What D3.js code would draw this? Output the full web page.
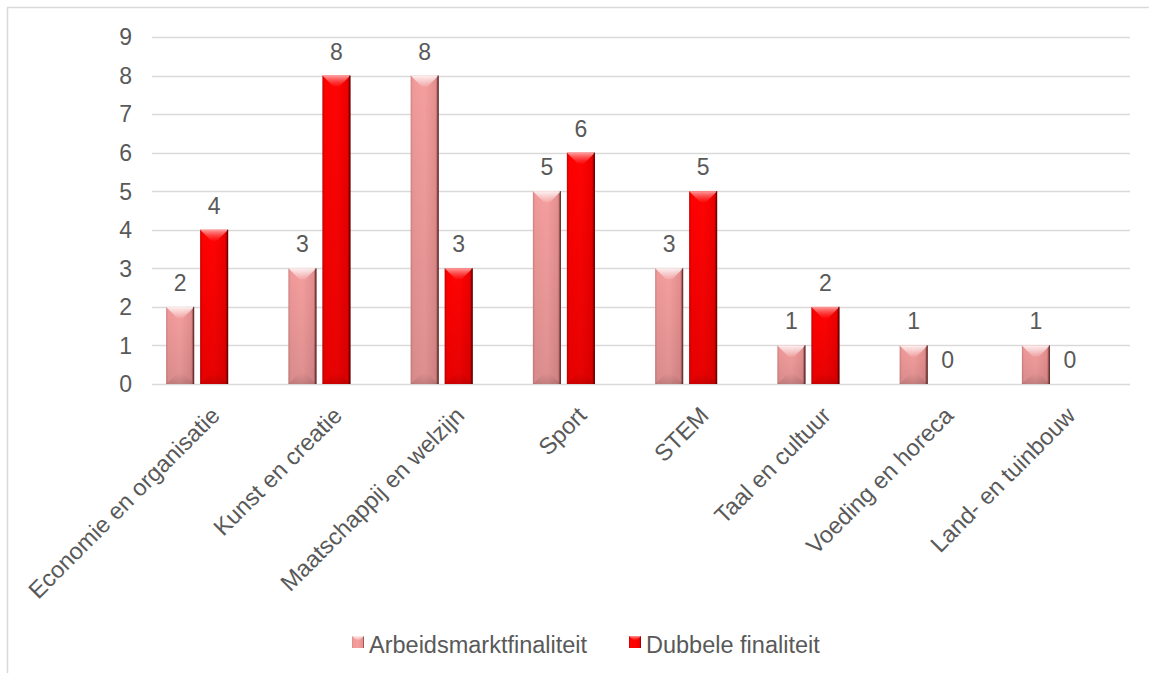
<!DOCTYPE html>
<html>
<head>
<meta charset="utf-8">
<script src="https://cdn.jsdelivr.net/npm/d3@7"></script>
<style>
html,body{margin:0;padding:0;background:#fff;}
svg{display:block;}
text{font-family:"Liberation Sans",Arial,sans-serif;fill:#595959;}
</style>
</head>
<body>
<svg id="chart" width="1149" height="673"></svg>
<script>
const categories = ["Economie en organisatie","Kunst en creatie","Maatschappij en welzijn","Sport","STEM","Taal en cultuur","Voeding en horeca","Land- en tuinbouw"];
const seriesNames = ["Arbeidsmarktfinaliteit","Dubbele finaliteit"];
const arbeidsmarkt = [2,3,8,5,3,1,1,1];
const dubbele = [4,8,3,6,5,2,0,0];
const yTicks = [0,1,2,3,4,5,6,7,8,9];

const svg = d3.select("#chart");
const W = 1149, H = 673;

// frame
svg.append("rect").attr("x",7.5).attr("y",7.5).attr("width",W+10).attr("height",H+10)
  .attr("fill","#fff").attr("stroke","#d9d9d9").attr("stroke-width",1.5);

const defs = svg.append("defs");
function hGrad(id, stops){
  const g = defs.append("linearGradient").attr("id",id).attr("x1","0").attr("x2","1").attr("y1","0").attr("y2","0");
  stops.forEach(s=>g.append("stop").attr("offset",s[0]).attr("stop-color",s[1]));
}
function vGrad(id, stops){
  const g = defs.append("linearGradient").attr("id",id).attr("x1","0").attr("x2","0").attr("y1","0").attr("y2","1");
  stops.forEach(s=>g.append("stop").attr("offset",s[0]).attr("stop-color",s[1]).attr("stop-opacity",s[2]));
}
hGrad("g0",[[0,"#d08282"],[0.08,"#f09999"],[0.5,"#f59f9f"],[0.9,"#e58f8f"],[1,"#6e2c2c"]]);
hGrad("g1",[[0,"#c40000"],[0.08,"#ff0000"],[0.5,"#ff0303"],[0.9,"#ee0000"],[1,"#6a0000"]]);
vGrad("top0",[[0,"#ffffff",0.85],[1,"#ffffff",0.1]]);
vGrad("top1",[[0,"#ffb0b0",0.9],[1,"#ff6060",0.1]]);
vGrad("shade",[[0,"#000000",0.0],[1,"#000000",0.1]]);
vGrad("bot",[[0,"#000000",0.0],[1,"#000000",0.12]]);

const y = d3.scaleLinear().domain([0,9]).range([384,37]);
const x0 = d3.scaleBand().domain(categories).range([136,1114]).paddingInner(0.493).paddingOuter(0.2465);
const x1 = d3.scaleBand().domain(seriesNames).range([0,x0.bandwidth()]).paddingInner(0.176);
const gridX = [152,1130];

// gridlines
svg.append("g").selectAll("line").data(yTicks).join("line")
  .attr("x1",gridX[0]).attr("x2",gridX[1])
  .attr("y1",d=>Math.round(y(d))+0.5).attr("y2",d=>Math.round(y(d))+0.5)
  .attr("stroke","#d9d9d9").attr("stroke-width",1.3);

// y labels
svg.append("g").selectAll("text").data(yTicks).join("text")
  .attr("x",132).attr("y",d=>y(d)).attr("dy","0.36em")
  .attr("text-anchor","end").attr("font-size",23).text(d=>d);

const data = [];
categories.forEach((c,i)=>{
  data.push({cat:c, s:0, name:seriesNames[0], v:arbeidsmarkt[i]});
  data.push({cat:c, s:1, name:seriesNames[1], v:dubbele[i]});
});

const bars = svg.append("g");
data.forEach(d=>{
  const bx = x0(d.cat)+x1(d.name), bw = x1.bandwidth();
  const top = y(d.v), bot = y(0), h = bot-top;
  if(h<=0) return;
  const g = bars.append("g");
  g.append("rect").attr("x",bx).attr("y",top).attr("width",bw).attr("height",h)
    .attr("fill",`url(#g${d.s})`);
  g.append("rect").attr("x",bx).attr("y",top).attr("width",bw).attr("height",h)
    .attr("fill","url(#shade)");
  const b = Math.min(11, bw/2, h/2);
  g.append("polygon").attr("points",[[bx,top],[bx+bw,top],[bx+bw-b,top+b],[bx+b,top+b]].map(p=>p.join(",")).join(" "))
    .attr("fill",`url(#top${d.s})`);
  g.append("polygon").attr("points",[[bx,bot],[bx+bw,bot],[bx+bw-b,bot-b],[bx+b,bot-b]].map(p=>p.join(",")).join(" "))
    .attr("fill","url(#bot)");
  g.append("line").attr("x1",bx+bw-0.5).attr("x2",bx+bw-0.5).attr("y1",top).attr("y2",bot)
    .attr("stroke",d.s?"#700000":"#6a3030").attr("stroke-width",1);
});

// data labels
svg.append("g").selectAll("text").data(data).join("text")
  .attr("x",d=>x0(d.cat)+x1(d.name)+x1.bandwidth()/2)
  .attr("y",d=>y(d.v)-16)
  .attr("text-anchor","middle").attr("font-size",23).text(d=>d.v);

// x labels
svg.append("g").selectAll("text").data(categories).join("text")
  .attr("transform",d=>`translate(${x0(d)+x0.bandwidth()/2+24},${417}) rotate(-45)`)
  .attr("text-anchor","end").attr("font-size",23.5).text(d=>d);

// legend
const legend = [{name:seriesNames[0], s:0, x:352},{name:seriesNames[1], s:1, x:629}];
const lg = svg.append("g");
legend.forEach(l=>{
  lg.append("rect").attr("x",l.x).attr("y",636).attr("width",12).attr("height",12)
    .attr("fill",`url(#g${l.s})`);
  lg.append("polygon").attr("points",[[l.x,636],[l.x+12,636],[l.x+8,640],[l.x+4,640]].map(p=>p.join(",")).join(" "))
    .attr("fill",`url(#top${l.s})`);
  lg.append("text").attr("x",l.x+17).attr("y",653).attr("font-size",23.5).text(l.name);
});
</script>
</body>
</html>
